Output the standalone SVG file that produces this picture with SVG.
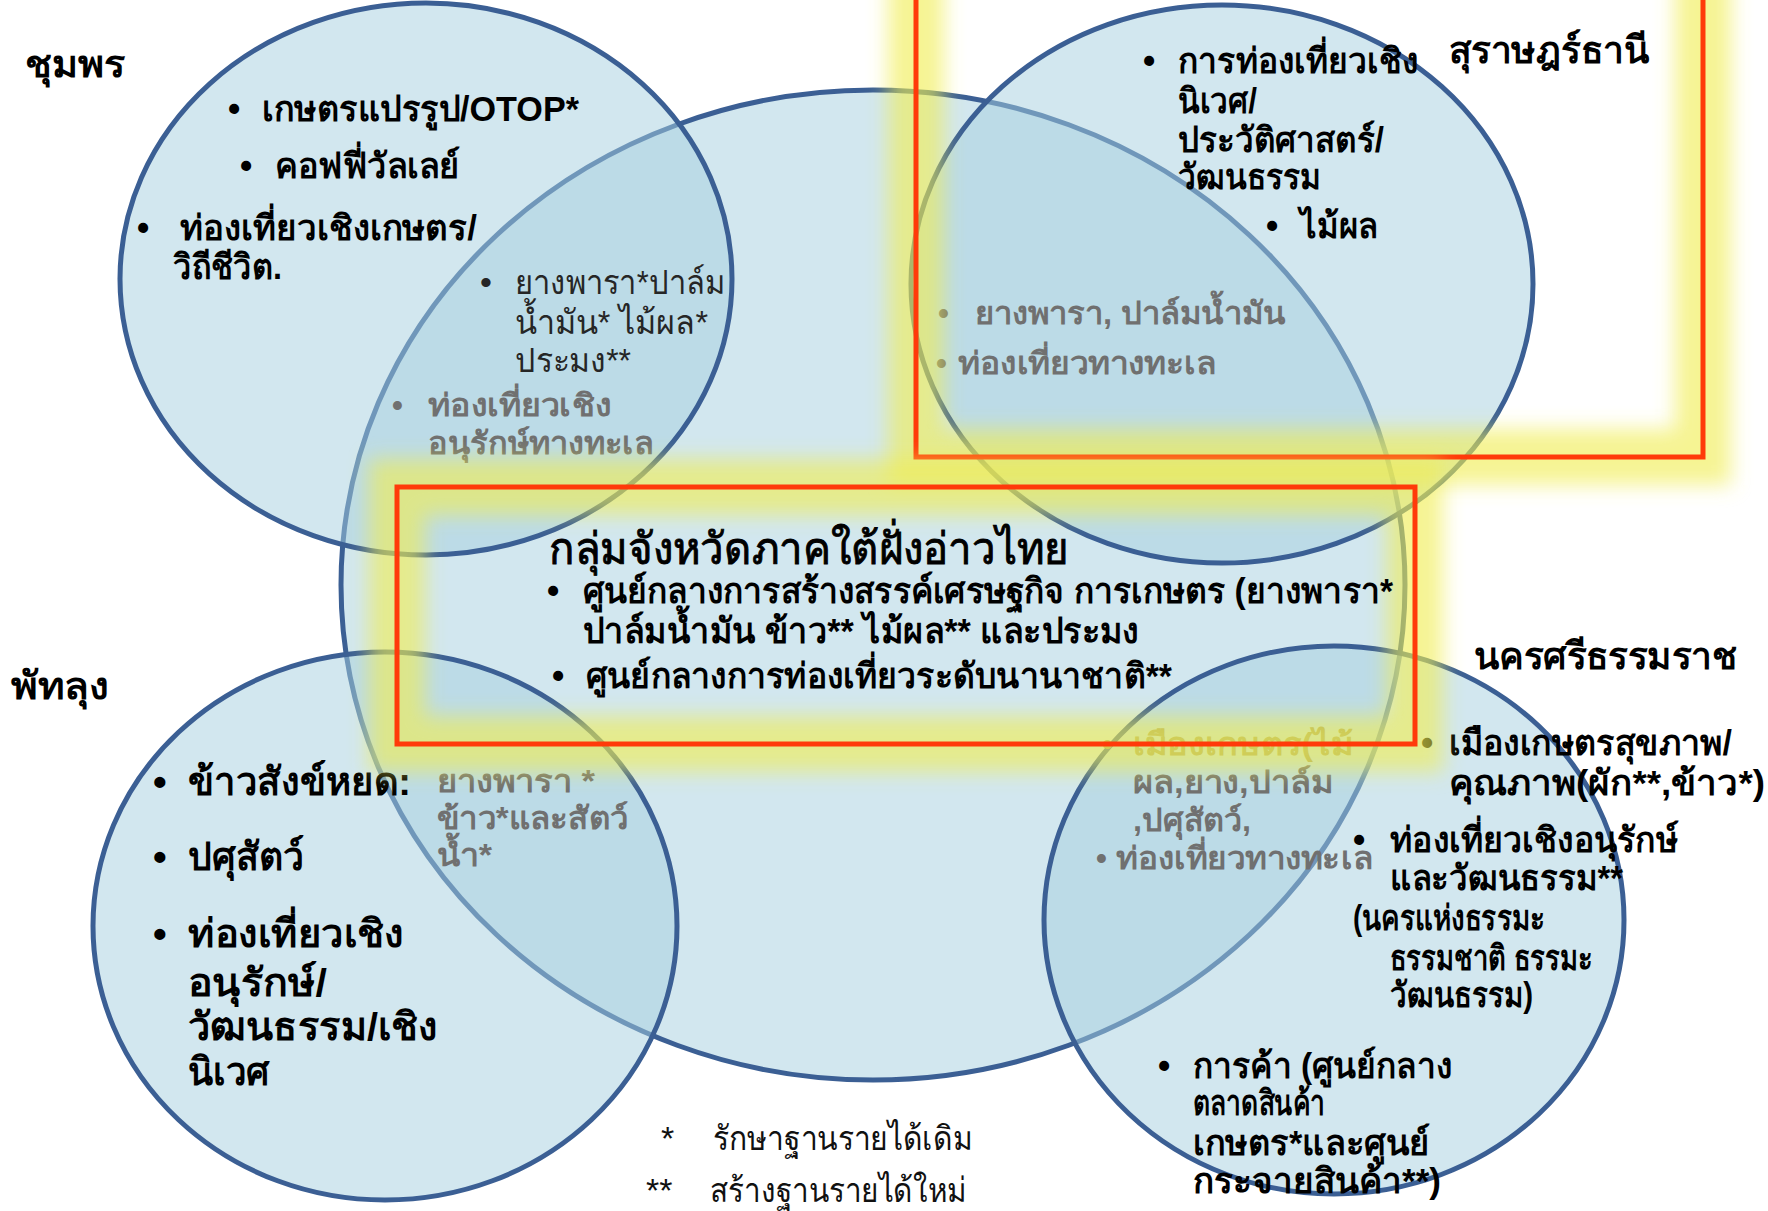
<svg xmlns="http://www.w3.org/2000/svg" width="1768" height="1211" viewBox="0 0 1768 1211">
<style>
.el{fill:#A5CFE0;fill-opacity:0.5;stroke:#3B5F94;stroke-width:5}
text{font-family:'Liberation Sans','Noto Sans',sans-serif;fill:#000}
.b{font-weight:bold}
.s{font-size:35px}
.p{font-size:39px}
.h{font-size:38px;font-weight:bold}
.g{fill:#707070;font-weight:bold;font-size:31px}
.d{fill:#262626;font-size:34px}
.w{fill:#9C9C62;font-weight:bold;font-size:31px}
.l{font-size:34px;fill:#111}
.glow{fill:none;stroke:#F0EE50;stroke-width:56;stroke-opacity:0.62;filter:url(#blur)}
.red{fill:none;stroke:#FF3A0A;stroke-width:5}
</style>
<defs>
<filter id="blur" x="-20%" y="-20%" width="140%" height="140%"><feGaussianBlur stdDeviation="10"/></filter>
</defs>
<rect width="1768" height="1211" fill="#FFFFFF"/>

<g id="central">
<ellipse class="el" cx="873" cy="585" rx="532" ry="495"/>
</g>

<g id="chumphon">
<ellipse class="el" cx="426" cy="279" rx="306" ry="276"/>
<text class="h" x="25" y="77" textLength="100" lengthAdjust="spacingAndGlyphs">ชุมพร</text>
<text class="s b" x="228" y="121">•</text>
<text class="s b" x="262" y="121" textLength="317" lengthAdjust="spacingAndGlyphs">เกษตรแปรรูป/OTOP*</text>
<text class="s b" x="240" y="178">•</text>
<text class="s b" x="275" y="178" textLength="185" lengthAdjust="spacingAndGlyphs">คอฟฟี่วัลเลย์</text>
<text class="s b" x="137" y="240">•</text>
<text class="s b" x="180" y="240" textLength="297" lengthAdjust="spacingAndGlyphs">ท่องเที่ยวเชิงเกษตร/</text>
<text class="s b" x="173" y="279" textLength="109" lengthAdjust="spacingAndGlyphs">วิถีชีวิต.</text>
<text class="d" x="480" y="294">•</text>
<text class="d" x="515" y="294" textLength="210" lengthAdjust="spacingAndGlyphs">ยางพารา*ปาล์ม</text>
<text class="d" x="515" y="334" textLength="193" lengthAdjust="spacingAndGlyphs">น้ำมัน* ไม้ผล*</text>
<text class="d" x="515" y="372" textLength="116" lengthAdjust="spacingAndGlyphs">ประมง**</text>
<text class="g" x="392" y="416">•</text>
<text class="g" x="428" y="416" textLength="183" lengthAdjust="spacingAndGlyphs">ท่องเที่ยวเชิง</text>
<text class="g" x="428" y="454" textLength="226" lengthAdjust="spacingAndGlyphs">อนุรักษ์ทางทะเล</text>
</g>

<g id="surat">
<ellipse class="el" cx="1222" cy="284" rx="311" ry="279"/>
<text class="h" x="1449" y="63" textLength="200" lengthAdjust="spacingAndGlyphs">สุราษฎร์ธานี</text>
<text class="s b" x="1143" y="73">•</text>
<text class="s b" x="1178" y="73" textLength="240" lengthAdjust="spacingAndGlyphs">การท่องเที่ยวเชิง</text>
<text class="s b" x="1178" y="113" textLength="79" lengthAdjust="spacingAndGlyphs">นิเวศ/</text>
<text class="s b" x="1178" y="152" textLength="206" lengthAdjust="spacingAndGlyphs">ประวัติศาสตร์/</text>
<text class="s b" x="1178" y="189" textLength="143" lengthAdjust="spacingAndGlyphs">วัฒนธรรม</text>
<text class="s b" x="1266" y="238">•</text>
<text class="s b" x="1300" y="238" textLength="78" lengthAdjust="spacingAndGlyphs">ไม้ผล</text>
<text class="g" x="938" y="324">•</text>
<text class="g" x="975" y="324" textLength="310" lengthAdjust="spacingAndGlyphs">ยางพารา, ปาล์มน้ำมัน</text>
<text class="g" x="936" y="374">•</text>
<text class="g" x="958" y="374" textLength="259" lengthAdjust="spacingAndGlyphs">ท่องเที่ยวทางทะเล</text>
</g>

<g id="phatthalung">
<ellipse class="el" cx="385" cy="926" rx="292" ry="274"/>
<text class="h" x="11" y="699" textLength="98" lengthAdjust="spacingAndGlyphs">พัทลุง</text>
<text class="p b" x="153" y="795">•</text>
<text class="p b" x="188" y="795" textLength="223" lengthAdjust="spacingAndGlyphs">ข้าวสังข์หยด:</text>
<text class="p b" x="153" y="870">•</text>
<text class="p b" x="188" y="870" textLength="116" lengthAdjust="spacingAndGlyphs">ปศุสัตว์</text>
<text class="p b" x="153" y="947">•</text>
<text class="p b" x="188" y="947" textLength="215" lengthAdjust="spacingAndGlyphs">ท่องเที่ยวเชิง</text>
<text class="p b" x="188" y="996" textLength="139" lengthAdjust="spacingAndGlyphs">อนุรักษ์/</text>
<text class="p b" x="188" y="1040" textLength="249" lengthAdjust="spacingAndGlyphs">วัฒนธรรม/เชิง</text>
<text class="p b" x="188" y="1085" textLength="82" lengthAdjust="spacingAndGlyphs">นิเวศ</text>
<text class="g" x="437" y="792" textLength="158" lengthAdjust="spacingAndGlyphs">ยางพารา *</text>
<text class="g" x="437" y="829" textLength="191" lengthAdjust="spacingAndGlyphs">ข้าว*และสัตว์</text>
<text class="g" x="437" y="866" textLength="55" lengthAdjust="spacingAndGlyphs">น้ำ*</text>
</g>

<g id="nakhon">
<ellipse class="el" cx="1334" cy="920" rx="290" ry="274"/>
<text class="h" x="1474" y="669" textLength="263" lengthAdjust="spacingAndGlyphs">นครศรีธรรมราช</text>
<text class="s b" x="1421" y="755">•</text>
<text class="s b" x="1449" y="755" textLength="283" lengthAdjust="spacingAndGlyphs">เมืองเกษตรสุขภาพ/</text>
<text class="s b" x="1449" y="795" textLength="316" lengthAdjust="spacingAndGlyphs">คุณภาพ(ผัก**,ข้าว*)</text>
<text class="s b" x="1353" y="852">•</text>
<text class="s b" x="1390" y="852" textLength="288" lengthAdjust="spacingAndGlyphs">ท่องเที่ยวเชิงอนุรักษ์</text>
<text class="s b" x="1390" y="890" textLength="233" lengthAdjust="spacingAndGlyphs">และวัฒนธรรม**</text>
<text class="s b" x="1353" y="930" textLength="192" lengthAdjust="spacingAndGlyphs">(นครแห่งธรรมะ</text>
<text class="s b" x="1390" y="970" textLength="203" lengthAdjust="spacingAndGlyphs">ธรรมชาติ ธรรมะ</text>
<text class="s b" x="1390" y="1007" textLength="143" lengthAdjust="spacingAndGlyphs">วัฒนธรรม)</text>
<text class="s b" x="1158" y="1078">•</text>
<text class="s b" x="1193" y="1078" textLength="259" lengthAdjust="spacingAndGlyphs">การค้า (ศูนย์กลาง</text>
<text class="s b" x="1193" y="1115" textLength="132" lengthAdjust="spacingAndGlyphs">ตลาดสินค้า</text>
<text class="s b" x="1193" y="1155" textLength="237" lengthAdjust="spacingAndGlyphs">เกษตร*และศูนย์</text>
<text class="s b" x="1193" y="1193" textLength="248" lengthAdjust="spacingAndGlyphs">กระจายสินค้า**)</text>
<text class="w" x="1102" y="755">•</text>
<text class="w" x="1133" y="755" textLength="220" lengthAdjust="spacingAndGlyphs">เมืองเกษตร(ไม้</text>
<text class="g" x="1133" y="793" textLength="200" lengthAdjust="spacingAndGlyphs">ผล,ยาง,ปาล์ม</text>
<text class="g" x="1133" y="831" textLength="118" lengthAdjust="spacingAndGlyphs">,ปศุสัตว์,</text>
<text class="g" x="1096" y="869">•</text>
<text class="g" x="1116" y="869" textLength="257" lengthAdjust="spacingAndGlyphs">ท่องเที่ยวทางทะเล</text>
</g>

<g id="box-surat">
<rect class="glow" x="916" y="-80" width="787" height="537"/>
<rect class="red" x="916" y="-80" width="787" height="537"/>
</g>

<g id="box-central">
<rect class="glow" x="397" y="487" width="1018" height="257"/>
<rect class="red" x="397" y="487" width="1018" height="257"/>
<text x="549" y="564" font-size="44" stroke="#000" stroke-width="0.9" textLength="520" lengthAdjust="spacingAndGlyphs">กลุ่มจังหวัดภาคใต้ฝั่งอ่าวไทย</text>
<text class="s b" x="547" y="603">•</text>
<text class="s b" x="583" y="603" textLength="810" lengthAdjust="spacingAndGlyphs">ศูนย์กลางการสร้างสรรค์เศรษฐกิจ การเกษตร (ยางพารา*</text>
<text class="s b" x="583" y="643" textLength="556" lengthAdjust="spacingAndGlyphs">ปาล์มน้ำมัน ข้าว** ไม้ผล** และประมง</text>
<text class="s b" x="552" y="688">•</text>
<text class="s b" x="586" y="688" textLength="586" lengthAdjust="spacingAndGlyphs">ศูนย์กลางการท่องเที่ยวระดับนานาชาติ**</text>
</g>

<g id="legend">
<text class="l" x="661" y="1150">*</text>
<text class="l" x="713" y="1150" textLength="259" lengthAdjust="spacingAndGlyphs">รักษาฐานรายได้เดิม</text>
<text class="l" x="646" y="1202">**</text>
<text class="l" x="710" y="1202" textLength="256" lengthAdjust="spacingAndGlyphs">สร้างฐานรายได้ใหม่</text>
</g>
</svg>
